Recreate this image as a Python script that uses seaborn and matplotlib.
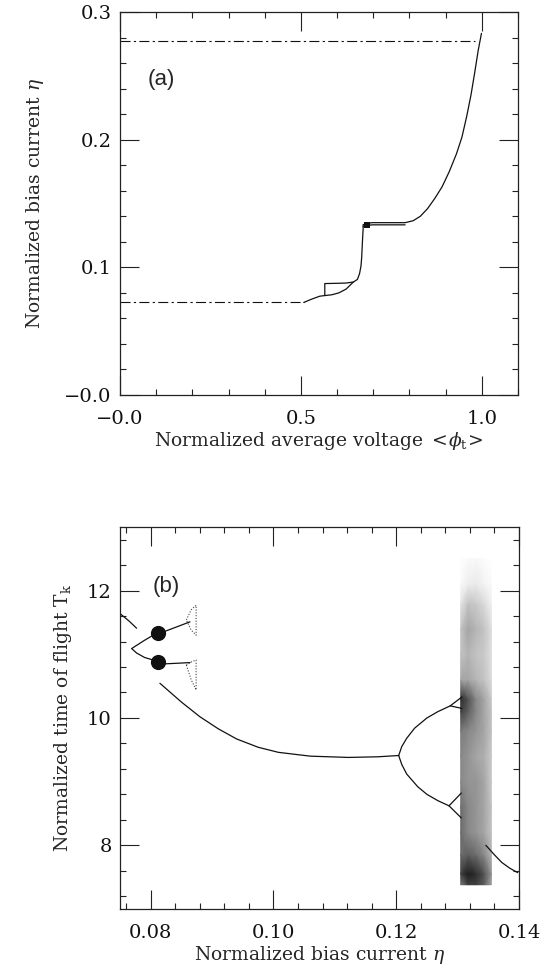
import numpy as np
import pandas as pd
import matplotlib
matplotlib.use("Agg")
import matplotlib.pyplot as plt
import seaborn as sns

# ---- panel (a): bias current vs average voltage ----
a_low_x = [0.0, 0.508]          # lower dash-dot branch
a_low_eta = [0.0725, 0.0725]
a_high_x = [0.0, 0.981]         # upper dash-dot branch
a_high_eta = [0.277, 0.277]

a_curve_x = [0.508, 0.527, 0.552, 0.566, 0.566, 0.600, 0.625, 0.645, 0.656, 0.662, 0.666, 0.668, 0.670, 0.672,
             0.672, 0.696, 0.740, 0.788, 0.810, 0.830, 0.850, 0.870, 0.890, 0.910, 0.930, 0.945, 0.958,
             0.970, 0.980, 0.990, 0.999]
a_curve_eta = [0.0725, 0.0748, 0.0774, 0.0779, 0.0873, 0.0875, 0.0877, 0.0885, 0.0905, 0.0950, 0.1010, 0.1080,
               0.1200, 0.1306, 0.1335, 0.1350, 0.1350, 0.1350, 0.1365, 0.1400, 0.1460, 0.1540, 0.1630,
               0.1750, 0.1890, 0.2020, 0.2180, 0.2350, 0.2520, 0.2700, 0.2833]
a_loop1_x = [0.566, 0.585, 0.605, 0.625, 0.645]
a_loop1_eta = [0.0779, 0.0785, 0.0800, 0.0830, 0.0885]
a_loop2_x = [0.672, 0.696, 0.788]
a_loop2_eta = [0.1320, 0.1333, 0.1333]
a_block_x = [0.684]
a_block_eta = [0.1333]

# ---- panel (b): time of flight vs bias current ----
b_top_x = [0.0750, 0.0765, 0.0777]
b_top_T = [11.64, 11.52, 11.41]
b_fork_up_x = [0.0804, 0.0790, 0.0777, 0.0769]
b_fork_up_T = [11.30, 11.22, 11.14, 11.09]
b_fork_lo_x = [0.0769, 0.0777, 0.0790, 0.0804]
b_fork_lo_T = [11.09, 11.02, 10.95, 10.91]
b_blob_x = [0.0812, 0.0812]
b_blob_T = [11.33, 10.88]
b_arm_up_x = [0.0823, 0.0845, 0.0864]
b_arm_up_T = [11.36, 11.44, 11.51]
b_arm_lo_x = [0.0823, 0.0845, 0.0864]
b_arm_lo_T = [10.85, 10.86, 10.87]
b_fan_up_x = [0.0858, 0.0866, 0.0874, 0.0874, 0.0866, 0.0858]
b_fan_up_T = [11.54, 11.70, 11.77, 11.30, 11.38, 11.54]
b_fan_lo_x = [0.0858, 0.0866, 0.0874, 0.0874, 0.0866, 0.0858]
b_fan_lo_T = [10.83, 10.88, 10.91, 10.44, 10.60, 10.83]

b_main_x = [0.0815, 0.0850, 0.0880, 0.0910, 0.0940, 0.0975, 0.1008, 0.1060, 0.1122, 0.1170, 0.1204]
b_main_T = [10.545, 10.25, 10.02, 9.83, 9.67, 9.54, 9.46, 9.40, 9.38, 9.39, 9.41]
b_upper_x = [0.1204, 0.1209, 0.1217, 0.1230, 0.1250, 0.1268, 0.1288, 0.1307]
b_upper_T = [9.41, 9.55, 9.68, 9.84, 10.00, 10.10, 10.19, 10.33]
b_upper2_x = [0.1288, 0.1307]
b_upper2_T = [10.19, 10.15]
b_lower_x = [0.1204, 0.1209, 0.1217, 0.1235, 0.1250, 0.1268, 0.1286, 0.1306]
b_lower_T = [9.41, 9.27, 9.12, 8.92, 8.80, 8.70, 8.62, 8.82]
b_lower2_x = [0.1286, 0.1306]
b_lower2_T = [8.62, 8.43]
b_tail_x = [0.1346, 0.1360, 0.1372, 0.1385, 0.1398]
b_tail_T = [8.00, 7.85, 7.73, 7.64, 7.57]

# chaotic band: darkness read at grid nodes (rows bottom -> top, columns left -> right)
chaos_x_nodes = [0.1305, 0.1317, 0.1330, 0.1343, 0.1355]
chaos_T_nodes = [7.38, 7.55, 7.85, 8.2, 8.6, 9.0, 9.4, 9.8, 10.1, 10.3, 10.6, 11.0, 11.4, 11.8, 12.1, 12.5]
chaos_density = [
    [0.60, 0.80, 0.80, 0.70, 0.45],
    [0.80, 0.90, 0.85, 0.75, 0.50],
    [0.65, 0.70, 0.65, 0.55, 0.40],
    [0.65, 0.55, 0.50, 0.45, 0.35],
    [0.65, 0.55, 0.50, 0.45, 0.35],
    [0.55, 0.50, 0.50, 0.45, 0.32],
    [0.55, 0.50, 0.45, 0.42, 0.32],
    [0.60, 0.55, 0.50, 0.45, 0.35],
    [0.80, 0.70, 0.55, 0.45, 0.35],
    [0.85, 0.75, 0.55, 0.45, 0.32],
    [0.45, 0.45, 0.40, 0.35, 0.24],
    [0.35, 0.40, 0.35, 0.32, 0.22],
    [0.35, 0.45, 0.40, 0.35, 0.22],
    [0.18, 0.35, 0.32, 0.24, 0.12],
    [0.04, 0.14, 0.16, 0.10, 0.04],
    [0.00, 0.04, 0.06, 0.03, 0.00],
]

sns.set_theme(style="ticks")
plt.rcParams["font.family"] = ["DejaVu Serif"]
plt.rcParams["mathtext.fontset"] = "dejavuserif"

fig = plt.figure(figsize=(5.47, 9.71), dpi=100)
ax_a = fig.add_axes([0.2194, 0.5932, 0.7276, 0.3944])
ax_b = fig.add_axes([0.2194, 0.0639, 0.7294, 0.3934])

ink = "#111111"
dashdot = (0, (9, 3, 2, 3))


def line(ax, xs, ys, **kw):
    df = pd.DataFrame({"x": xs, "y": ys})
    sns.lineplot(data=df, x="x", y="y", ax=ax, sort=False, estimator=None,
                 color=kw.pop("color", ink), lw=kw.pop("lw", 0.9), **kw)


# panel (a)
line(ax_a, a_low_x, a_low_eta, linestyle=dashdot, lw=0.8)
line(ax_a, a_high_x, a_high_eta, linestyle=dashdot, lw=0.8)
line(ax_a, a_curve_x, a_curve_eta)
line(ax_a, a_loop1_x, a_loop1_eta)
line(ax_a, a_loop2_x, a_loop2_eta)
sns.scatterplot(x=a_block_x, y=a_block_eta, ax=ax_a, marker="s", s=22, color=ink, linewidth=0)

# panel (b)
gx, gy = np.meshgrid(chaos_x_nodes, chaos_T_nodes)
ax_b.pcolormesh(gx, gy, np.array(chaos_density), cmap="Greys",
                vmin=0, vmax=1.0, shading="gouraud", zorder=1, rasterized=True)
for xs, ys in [(b_top_x, b_top_T), (b_fork_up_x, b_fork_up_T), (b_fork_lo_x, b_fork_lo_T),
               (b_arm_up_x, b_arm_up_T), (b_arm_lo_x, b_arm_lo_T), (b_main_x, b_main_T),
               (b_upper_x, b_upper_T), (b_upper2_x, b_upper2_T), (b_lower_x, b_lower_T),
               (b_lower2_x, b_lower2_T), (b_tail_x, b_tail_T)]:
    line(ax_b, xs, ys)
for xs, ys in [(b_fan_up_x, b_fan_up_T), (b_fan_lo_x, b_fan_lo_T)]:
    line(ax_b, xs, ys, linestyle=(0, (1, 1.5)), lw=0.8, color="#444444")
sns.scatterplot(x=b_blob_x, y=b_blob_T, ax=ax_b, marker="o", s=120, color=ink, linewidth=0, zorder=3)

# axes styling
for ax in (ax_a, ax_b):
    ax.set_xlabel("")
    ax.set_ylabel("")
    for sp in ax.spines.values():
        sp.set_visible(True)
        sp.set_linewidth(0.9)
        sp.set_color("#222222")
    ax.tick_params(which="both", direction="in", top=True, right=True, color="#222222",
                   width=0.8, labelsize=14, labelcolor="#111111")
    ax.tick_params(which="major", length=14)
    ax.tick_params(which="minor", length=4.5)
    ax.tick_params(axis="x", which="major", pad=11)
    ax.tick_params(axis="y", which="major", pad=6)
    ax.grid(False)

ax_a.set_xlim(0.0, 1.1)
ax_a.set_ylim(0.0, 0.3)
ax_a.set_xticks([0.0, 0.5, 1.0], ["\u22120.0", "0.5", "1.0"])
ax_a.set_xticks(np.arange(0.0, 1.11, 0.1), minor=True)
ax_a.set_yticks([0.0, 0.1, 0.2, 0.3], ["\u22120.0", "0.1", "0.2", "0.3"])
ax_a.set_yticks(np.arange(0.0, 0.301, 0.02), minor=True)
ax_a.set_xlabel(r"Normalized average voltage $<\!\phi_{\rm t}\!>$", fontsize=13.5, labelpad=1)
ax_a.set_ylabel(r"Normalized bias current $\eta$", fontsize=13.5, labelpad=13)
ax_a.text(0.105, 0.825, "(a)", transform=ax_a.transAxes, family="Liberation Sans",
          fontsize=16, ha="center", va="center")

ax_b.set_xlim(0.075, 0.1399)
ax_b.set_ylim(7.0, 13.0)
ax_b.set_xticks([0.08, 0.10, 0.12, 0.14], ["0.08", "0.10", "0.12", "0.14"])
ax_b.set_xticks(np.arange(0.076, 0.1401, 0.004), minor=True)
ax_b.set_yticks([8, 10, 12], ["8", "10", "12"])
ax_b.set_yticks(np.arange(7.2, 13.0, 0.4), minor=True)
ax_b.set_xlabel(r"Normalized bias current $\eta$", fontsize=13.5, labelpad=1)
ax_b.set_ylabel(r"Normalized time of flight T$_{\rm k}$", fontsize=13.5, labelpad=9)
ax_b.text(0.115, 0.843, "(b)", transform=ax_b.transAxes, family="Liberation Sans",
          fontsize=16, ha="center", va="center")

fig.savefig("out.png", dpi=100)
